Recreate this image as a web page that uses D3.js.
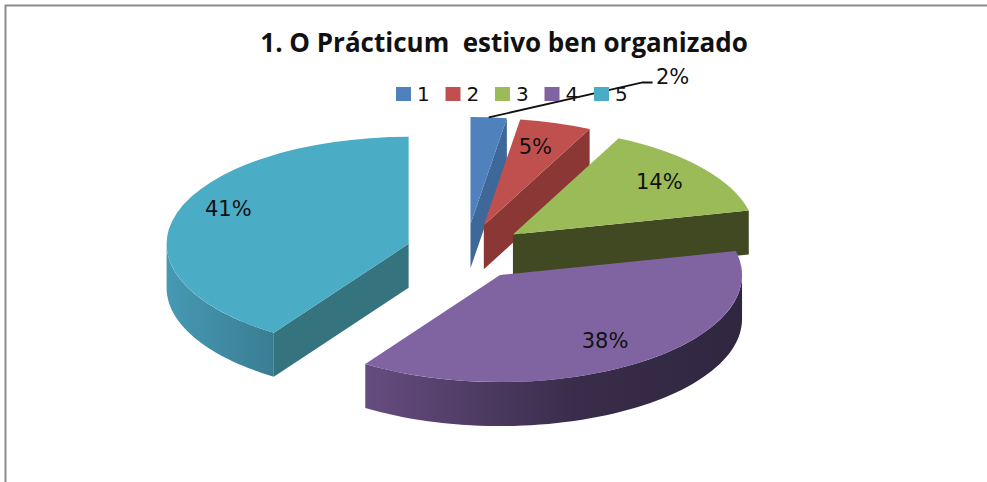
<!DOCTYPE html>
<html>
<head>
<meta charset="utf-8">
<script src="https://cdn.jsdelivr.net/npm/d3@7"></script>
<style>
  body { margin: 0; background: #fff; }
  text { font-family: "DejaVu Sans", sans-serif; fill: #111; }
  .title { font-family: "Open Sans", sans-serif; }
</style>
</head>
<body>
<svg id="viz"></svg>
<script>
const titleText = "1. O Prácticum  estivo ben organizado";
const categories = ["1", "2", "3", "4", "5"];
const shares = [2.4, 4.8, 14.2, 38, 40.6];

const topColors = ["#4f81bd", "#c0504d", "#9bbb59", "#8064a2", "#4bacc6"];
const sideColors = ["#3f689a", "#8a3735", "#404921", "#33284a", "#35737f"];
const rimColors = [["#4f81bd", "#3f689a"], ["#c0504d", "#8a3735"], ["#9bbb59", "#404921"], ["#664d80", "#2f2640"], ["#4699b4", "#3a7d93"]];

// label spot per slice, as a fraction of the radii from the slice centre
const labelFrac = [[0.835, -1.37], [0.213, -0.735], [0.605, -0.49], [0.434, 0.62], [-0.745, -0.33]];

const width = 987;
const height = 482;
const cx = 466, cy = 252;      // pie centre before explosion
const rx = 242, ry = 107;      // tilted ellipse
const explodeX = 60, explodeY = 28;
const depth = 44;

const svg = d3.select("#viz").attr("width", width).attr("height", height).style("display", "block");
const defs = svg.append("defs");

// frame: only the top and left border show
svg.append("path").attr("d", d3.line()([[5.5, height], [5.5, 5.5], [width, 5.5]]))
    .attr("fill", "none").attr("stroke", "#8c8c8c").attr("stroke-width", 2);

svg.append("text").attr("class", "title").attr("x", 504).attr("y", 52).attr("text-anchor", "middle")
    .attr("font-size", 26).attr("font-weight", 700)
    .style("white-space", "pre").text(titleText);

const slices = d3.pie().sort(null).startAngle(0).endAngle(2 * Math.PI)(shares);
slices.forEach(s => {
    const mid = (s.startAngle + s.endAngle) / 2;
    s.cx = cx + explodeX * Math.sin(mid);
    s.cy = cy - explodeY * Math.cos(mid);
});

const px = (s, a) => s.cx + rx * Math.sin(a);
const py = (s, a) => s.cy - ry * Math.cos(a);
const line = d3.line();
const arc = d3.arc().innerRadius(0).outerRadius(rx);

// radial wall at one edge of the slice
const radialWall = (s, a) => line([[s.cx, s.cy], [px(s, a), py(s, a)], [px(s, a), py(s, a) + depth], [s.cx, s.cy + depth]]) + "Z";

// curved wall, only the part of the rim that faces the viewer
const rimWall = (s) => {
    const a0 = Math.max(s.startAngle, Math.PI / 2);
    const a1 = Math.min(s.endAngle, 3 * Math.PI / 2);
    if (a1 <= a0) return null;
    const angles = d3.range(0, 61).map(i => a0 + (a1 - a0) * i / 60);
    const front = angles.map(a => [px(s, a), py(s, a)]);
    const back = angles.slice().reverse().map(a => [px(s, a), py(s, a) + depth]);
    return line(front.concat(back)) + "Z";
};

// slices from back to front
const order = [0, 1, 2, 4, 3];
const pieG = svg.append("g");

order.forEach(i => {
    const s = slices[i];
    const g = pieG.append("g");

    if (Math.sin(s.endAngle) > 0.001) {
        g.append("path").attr("d", radialWall(s, s.endAngle)).attr("fill", sideColors[i]);
    }
    if (Math.sin(s.startAngle) < -0.001) {
        g.append("path").attr("d", radialWall(s, s.startAngle)).attr("fill", sideColors[i]);
    }

    const rim = rimWall(s);
    if (rim) {
        const grad = defs.append("linearGradient").attr("id", "rim" + i);
        grad.append("stop").attr("offset", "0%").attr("stop-color", rimColors[i][0]);
        if (i === 3) grad.append("stop").attr("offset", "55%").attr("stop-color", "#3a2d4b");
        grad.append("stop").attr("offset", "100%").attr("stop-color", rimColors[i][1]);
        g.append("path").attr("d", rim).attr("fill", `url(#rim${i})`);
    }

    g.append("path").attr("d", arc(s))
        .attr("transform", `translate(${s.cx},${s.cy}) scale(1,${ry / rx})`)
        .attr("fill", topColors[i]);
});

// percent labels
const labelX = (i) => slices[i].cx + labelFrac[i][0] * rx;
const labelY = (i) => slices[i].cy + labelFrac[i][1] * ry;

// leader line for the small first slice, under the legend
const first = slices[0];
const firstMid = (first.startAngle + first.endAngle) / 2;
svg.append("path")
    .attr("d", line([[px(first, firstMid), py(first, firstMid)], [labelX(0) - 30, labelY(0) + 5], [labelX(0) - 20, labelY(0) + 5]]))
    .attr("fill", "none").attr("stroke", "#111").attr("stroke-width", 1.8);

const legendX = d3.scalePoint().domain(categories).range([396, 594]);
const legend = svg.append("g");
categories.forEach((c, i) => {
    legend.append("rect").attr("x", legendX(c)).attr("y", 87).attr("width", 15).attr("height", 14).attr("fill", topColors[i]);
    legend.append("text").attr("x", legendX(c) + 21).attr("y", 101).attr("font-size", 20).attr("fill", "#222").text(c);
});

shares.forEach((v, i) => {
    svg.append("text").attr("x", labelX(i)).attr("y", labelY(i)).attr("text-anchor", "middle")
        .attr("dominant-baseline", "central").attr("font-size", 21).text(Math.round(v) + "%");
});
</script>
</body>
</html>
